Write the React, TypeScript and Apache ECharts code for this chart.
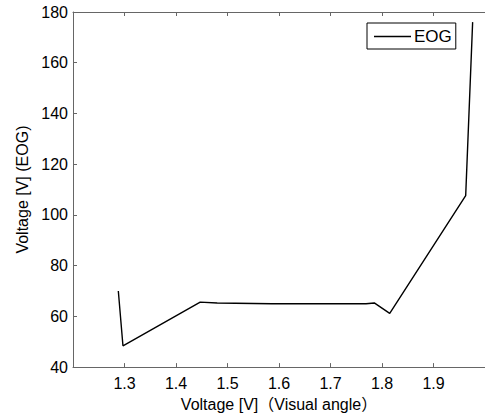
import React, { useEffect, useRef } from "react";
import * as echarts from "echarts";

const xValues = [1.288, 1.297, 1.447, 1.48, 1.586, 1.769, 1.785, 1.815, 1.9625, 1.976];
const yValues = [70, 48.4, 65.6, 65.3, 65.0, 65.0, 65.3, 61.2, 107.6, 176];
const seriesName = "EOG";
const xTitle = "Voltage [V]（Visual angle）";
const yTitle = "Voltage [V] (EOG)";

export default function App() {
  const ref = useRef<HTMLDivElement>(null);
  useEffect(() => {
    if (!ref.current) return;
    const chart = echarts.init(ref.current, undefined, { renderer: "svg" });
    const labelFont = { fontFamily: "Arial", fontSize: 16, color: "#000" };
    chart.setOption({
      animation: false,
      backgroundColor: "#fff",
      grid: { left: 73, top: 12, bottom: 49, right: -8 },
      legend: {
        data: [seriesName],
        left: 367,
        top: 23,
        orient: "vertical",
        icon: "rect",
        borderColor: "#000",
        borderWidth: 1,
        borderRadius: 0,
        padding: [5, 4, 4, 7],
        itemWidth: 37,
        itemHeight: 1.5,
        itemGap: 0,
        itemStyle: { color: "#000" },
        textStyle: { fontFamily: "Arial", fontSize: 17, color: "#000", padding: [0, 0, 0, -2] },
      },
      xAxis: [
        {
          type: "value",
          min: 1.2,
          max: 2.0,
          interval: 0.1,
          name: xTitle,
          nameLocation: "middle",
          nameGap: 27,
          nameTextStyle: { fontFamily: "Arial, Noto Sans CJK JP", fontSize: 16, color: "#000" },
          axisLine: { show: true, lineStyle: { color: "#666", width: 1 } },
          axisTick: { show: true, inside: true, length: 4, lineStyle: { color: "#666" } },
          axisLabel: {
            ...labelFont,
            margin: 8,
            showMinLabel: false,
            showMaxLabel: false,
            formatter: (v: number) => v.toFixed(1),
          },
          splitLine: { show: false },
        },
        {
          type: "value",
          position: "top",
          min: 1.2,
          max: 2.0,
          interval: 0.1,
          axisLine: { show: true, lineStyle: { color: "#666", width: 1 } },
          axisTick: { show: true, inside: true, length: 4, lineStyle: { color: "#666" } },
          axisLabel: { show: false },
          splitLine: { show: false },
        },
      ],
      yAxis: {
        type: "value",
        min: 40,
        max: 180,
        interval: 20,
        name: yTitle,
        nameLocation: "middle",
        nameGap: 38,
        nameTextStyle: { fontFamily: "Arial", fontSize: 16, color: "#000" },
        axisLine: { show: true, lineStyle: { color: "#666", width: 1 } },
        axisTick: { show: true, inside: true, length: 4, lineStyle: { color: "#666" } },
        axisLabel: { ...labelFont, margin: 5 },
        splitLine: { show: false },
      },
      series: [
        {
          name: seriesName,
          type: "line",
          data: xValues.map((x, i) => [x, yValues[i]]),
          symbol: "none",
          lineStyle: { color: "#000", width: 1.4 },
          itemStyle: { color: "#000" },
        },
      ],
    });
    return () => chart.dispose();
  }, []);
  return <div ref={ref} style={{ width: 485, height: 417, position: "absolute", left: 0, top: 0 }} />;
}
